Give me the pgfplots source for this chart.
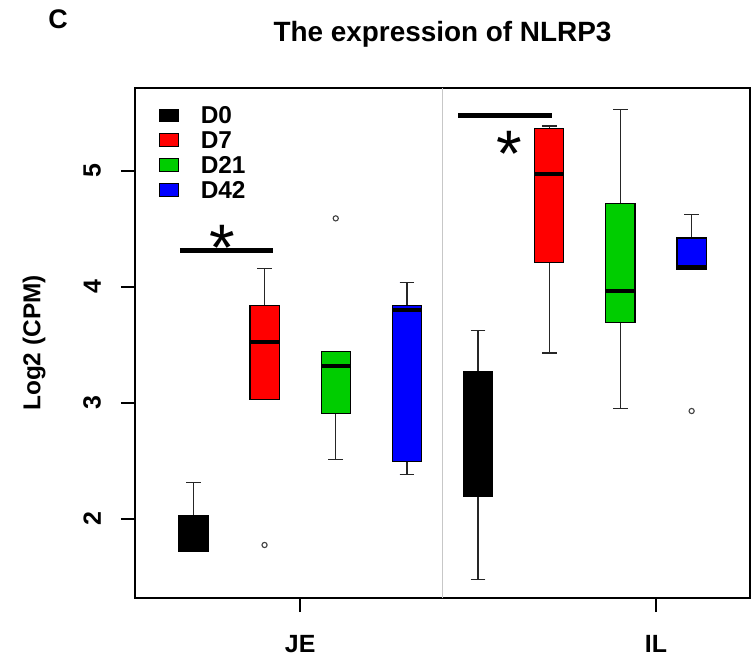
\documentclass[border=0pt]{standalone}
\usepackage{fontspec}
\setmainfont{Liberation Sans}
\usepackage{pgfplots}
\pgfplotsset{compat=1.18}
\usepgfplotslibrary{statistics}

\definecolor{rred}{RGB}{255,0,0}
\definecolor{rgreen}{RGB}{0,205,0}
\definecolor{rblue}{RGB}{0,0,255}

\pgfplotsset{
  rbox/.style={
    draw=black, line width=1.2bp,
    boxplot/draw direction=y,
    boxplot/box extend=0.41,
    boxplot/whisker extend=0.205,
    boxplot/every median/.style={draw=black, line width=4bp},
    boxplot/every whisker/.style={draw=black!85, line width=1.3bp},
    boxplot/every box/.style={draw=black, line width=1.2bp},
    mark=o, mark size=2.6bp,
    mark options={draw=black!75, fill=none, line width=1.1bp, solid},
  },
}

\begin{document}
\begin{tikzpicture}
\useasboundingbox (-135bp,-60bp) rectangle (617bp,598bp);
\begin{axis}[
  at={(0bp,0bp)}, anchor=south west,
  scale only axis, width=615bp, height=510bp,
  xmin=0.18, xmax=8.82, ymin=1.319, ymax=5.716,
  axis line style={line width=2.4bp, black},
  xtick={2.5,7.5}, xticklabels={JE,IL},
  ytick={2,3,4,5},
  tick align=outside, major tick length=14bp,
  xtick pos=bottom, ytick pos=left,
  tick style={line width=1.3bp, black},
  ticklabel style={font=\bfseries\fontsize{25}{25}\selectfont},
  /pgf/number format/assume math mode=true,
  yticklabel style={rotate=90, anchor=south, inner sep=0pt, yshift=20bp},
  xticklabel style={anchor=north, inner sep=0pt, yshift=-23.5bp},
  title={The expression of NLRP3},
  title style={font=\bfseries\fontsize{28}{28}\selectfont, at={(rel axis cs:0.5,1)}, anchor=base, yshift=41bp, inner sep=0pt},
  ylabel={Log2 (CPM)},
  ylabel style={font=\bfseries\fontsize{24.5}{24.5}\selectfont, at={(rel axis cs:0,0.5)}, anchor=center, yshift=101bp, inner sep=0pt},
  legend cell align=left,
  legend style={at={(rel axis cs:0,1)}, anchor=north west, xshift=24bp, yshift=-18.7bp,
    draw=none, fill=none, inner xsep=0pt, inner ysep=0pt, row sep=7.8bp, column sep=0pt,
    font=\bfseries\fontsize{24.5}{24.5}\selectfont, nodes={inner sep=0pt, text depth=0pt}},
  clip=false,
]
% legend
\addlegendimage{legend image code/.code={\draw[fill=black, draw=black, line width=0.8bp] (0bp,-6.3bp) rectangle (19bp,6.3bp); \path (41bp,0bp);}}
\addlegendentry{D0}
\addlegendimage{legend image code/.code={\draw[fill=rred, draw=black, line width=0.8bp] (0bp,-6.3bp) rectangle (19bp,6.3bp); \path (41bp,0bp);}}
\addlegendentry{D7}
\addlegendimage{legend image code/.code={\draw[fill=rgreen, draw=black, line width=0.8bp] (0bp,-6.3bp) rectangle (19bp,6.3bp); \path (41bp,0bp);}}
\addlegendentry{D21}
\addlegendimage{legend image code/.code={\draw[fill=rblue, draw=black, line width=0.8bp] (0bp,-6.3bp) rectangle (19bp,6.3bp); \path (41bp,0bp);}}
\addlegendentry{D42}

% divider
\addplot[draw=black!22, line width=1.3bp] coordinates {(4.5,1.319) (4.5,5.716)};

% JE
\addplot[rbox, fill=black, boxplot prepared={draw position=1,
  lower whisker=1.724, lower quartile=1.724, median=1.75, upper quartile=2.032, upper whisker=2.316}]
  coordinates {};
\addplot[rbox, fill=rred, boxplot prepared={draw position=2,
  lower whisker=3.032, lower quartile=3.032, median=3.528, upper quartile=3.842, upper whisker=4.158}]
  table[row sep=\\, y index=0] {v\\ 1.776\\};
\addplot[rbox, fill=rgreen, boxplot prepared={draw position=3,
  lower whisker=2.511, lower quartile=2.911, median=3.322, upper quartile=3.442, upper whisker=3.442}]
  table[row sep=\\, y index=0] {v\\ 4.592\\};
\addplot[rbox, fill=rblue, boxplot prepared={draw position=4,
  lower whisker=2.385, lower quartile=2.497, median=3.802, upper quartile=3.842, upper whisker=4.037}]
  coordinates {};
% IL
\addplot[rbox, fill=black, boxplot prepared={draw position=5,
  lower whisker=1.480, lower quartile=2.192, median=2.70, upper quartile=3.267, upper whisker=3.627}]
  coordinates {};
\addplot[rbox, fill=rred, boxplot prepared={draw position=6,
  lower whisker=3.431, lower quartile=4.213, median=4.971, upper quartile=5.368, upper whisker=5.388}]
  coordinates {};
\addplot[rbox, fill=rgreen, boxplot prepared={draw position=7,
  lower whisker=2.951, lower quartile=3.692, median=3.966, upper quartile=4.718, upper whisker=5.532}]
  coordinates {};
\addplot[rbox, fill=rblue, boxplot prepared={draw position=8,
  lower whisker=4.155, lower quartile=4.155, median=4.175, upper quartile=4.422, upper whisker=4.627}]
  table[row sep=\\, y index=0] {v\\ 2.931\\};

% significance
\addplot[black, line width=4.5bp] coordinates {(0.812,4.313) (2.115,4.313)};
\addplot[black, line width=4.5bp] coordinates {(4.72,5.477) (6.034,5.477)};
\node[anchor=base, inner sep=0pt, font=\fontsize{66}{66}\selectfont] at (axis cs:1.409,4.14) {*};
\node[anchor=base, inner sep=0pt, font=\fontsize{66}{66}\selectfont] at (axis cs:5.444,4.95) {*};
\end{axis}
\node[anchor=base, inner sep=0pt, font=\bfseries\fontsize{27}{27}\selectfont] at (-77bp,569bp) {C};
\end{tikzpicture}
\end{document}
